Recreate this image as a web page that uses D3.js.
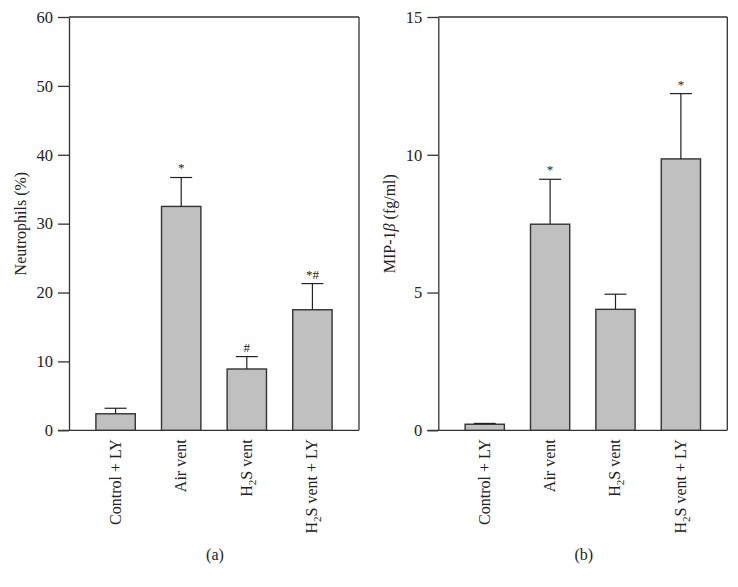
<!DOCTYPE html>
<html><head><meta charset="utf-8">
<script src="https://cdn.jsdelivr.net/npm/d3@7"></script>
<style>
body{margin:0;background:#fff;}
svg{display:block;}
text{font-family:"Liberation Serif","Times New Roman",serif;fill:#222;}
</style></head>
<body>
<svg id="chart" width="738" height="587"></svg>
<script>
const categories = ["Control + LY", "Air vent", "H2S vent", "H2S vent + LY"];
const neutroMean = [2.4, 32.5, 8.9, 17.5];
const neutroErr  = [0.8, 4.2, 1.8, 3.8];
const neutroMarks = ["", "*", "#", "*#"];
const neutroTicks = [0, 10, 20, 30, 40, 50, 60];
const mipMean = [0.22, 7.48, 4.39, 9.85];
const mipErr  = [0.03, 1.63, 0.55, 2.37];
const mipMarks = ["", "*", "", "*"];
const mipTicks = [0, 5, 10, 15];

const svg = d3.select("#chart");

function catLabel(sel, name){
  if (name.startsWith("H2S")) {
    sel.append("tspan").text("H");
    sel.append("tspan").attr("font-size", 11).attr("dy", 4).text("2");
    sel.append("tspan").attr("dy", -4).text("S" + name.slice(3));
  } else sel.text(name);
}

function panel(opt){
  const g = svg.append("g");
  const x = d3.scaleBand().domain(categories).range([opt.x0, opt.x1]).paddingInner(0.4).paddingOuter(0.41);
  const y = d3.scaleLinear().domain([0, opt.max]).range([430.3, 17]);
  const stroke = "#333";

  // frame: top and right
  g.append("line").attr("x1", opt.x0).attr("x2", opt.x1).attr("y1", y(opt.max)).attr("y2", y(opt.max)).attr("stroke", stroke).attr("stroke-width", 1.3);
  g.append("line").attr("x1", opt.x1).attr("x2", opt.x1).attr("y1", y(opt.max)).attr("y2", y(0)).attr("stroke", stroke).attr("stroke-width", 1.3);

  // y axis
  const ya = g.append("g").attr("transform", `translate(${opt.x0},0)`)
    .call(d3.axisLeft(y).tickValues(opt.ticks).tickSize(11).tickPadding(5).tickSizeOuter(0));
  ya.select(".domain").attr("stroke", stroke).attr("stroke-width", 1.3);
  ya.selectAll(".tick line").attr("stroke", stroke).attr("stroke-width", 1.3);
  ya.selectAll(".tick text").attr("font-size", 16.5).attr("fill", "#222").attr("font-family", '"Liberation Serif",serif');

  // x axis baseline
  g.append("line").attr("x1", opt.x0 - 11).attr("x2", opt.x1).attr("y1", y(0)).attr("y2", y(0)).attr("stroke", stroke).attr("stroke-width", 1.3);

  // bars
  g.selectAll("rect.bar").data(categories).join("rect")
    .attr("x", d => x(d)).attr("width", x.bandwidth())
    .attr("y", (d,i) => y(opt.mean[i])).attr("height", (d,i) => y(0) - y(opt.mean[i]))
    .attr("fill", "#c0c0c0").attr("stroke", "#333").attr("stroke-width", 1.4);

  // error bars
  const cap = 11;
  categories.forEach((d,i) => {
    const cx = x(d) + x.bandwidth()/2;
    const top = y(opt.mean[i] + opt.err[i]);
    g.append("line").attr("x1", cx).attr("x2", cx).attr("y1", y(opt.mean[i])).attr("y2", top).attr("stroke", "#222").attr("stroke-width", 1.2);
    g.append("line").attr("x1", cx - cap).attr("x2", cx + cap).attr("y1", top).attr("y2", top).attr("stroke", "#222").attr("stroke-width", 1.2);
    if (opt.marks[i]) {
      g.append("text").attr("x", cx).attr("y", top - 5).attr("text-anchor", "middle")
        .attr("font-size", 13).text(opt.marks[i].split("").join(""));
    }
    const t = g.append("text").attr("transform", `translate(${cx + 5},${y(0) + 9}) rotate(-90)`)
      .attr("text-anchor", "end").attr("font-size", 16);
    catLabel(t, d);
  });

  // y label
  const yl = g.append("text").attr("transform", `translate(${opt.x0 - 43},${(y(0)+y(opt.max))/2}) rotate(-90)`)
    .attr("text-anchor", "middle").attr("font-size", 16);
  opt.ylabel(yl);

  // panel letter
  g.append("text").attr("x", (opt.x0 + opt.x1)/2 + 1).attr("y", 560).attr("text-anchor", "middle")
    .attr("font-size", 16).text(opt.letter);
}

panel({x0: 69, x1: 359, max: 60, ticks: neutroTicks, mean: neutroMean, err: neutroErr, marks: neutroMarks,
  letter: "(a)", ylabel: t => t.text("Neutrophils (%)")});
panel({x0: 438.3, x1: 727.3, max: 15, ticks: mipTicks, mean: mipMean, err: mipErr, marks: mipMarks,
  letter: "(b)", ylabel: t => { t.append("tspan").text("MIP-1"); t.append("tspan").attr("font-style", "italic").text("β"); t.append("tspan").text(" (fg/ml)"); }});
</script>
</body></html>
